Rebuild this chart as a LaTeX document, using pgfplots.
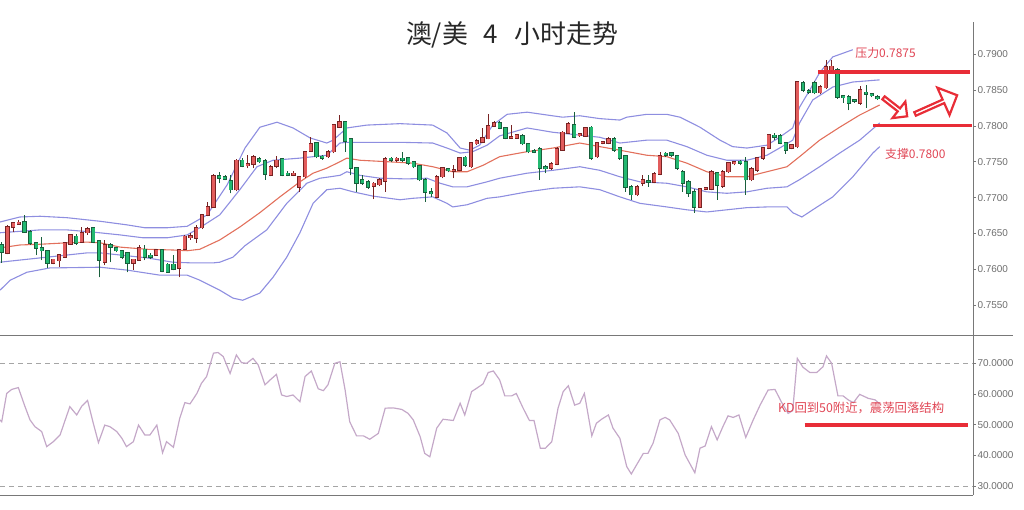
\documentclass[border=0pt]{standalone}
\usepackage{pgfplots}
\pgfplotsset{compat=1.18}
\usepackage{pgfplotstable}
\usepackage{fontspec}
\setmainfont{Liberation Sans}
\newfontfamily\cjk{Noto Sans CJK SC}
\usetikzlibrary{shapes.arrows}
\definecolor{upcol}{RGB}{226,92,92}
\definecolor{dncol}{RGB}{34,184,112}
\definecolor{wickup}{RGB}{120,35,35}
\definecolor{wickdn}{RGB}{25,95,60}
\definecolor{bandcol}{RGB}{142,142,224}
\definecolor{midcol}{RGB}{226,112,92}
\definecolor{kdcol}{RGB}{196,168,200}
\definecolor{annred}{RGB}{232,45,55}
\definecolor{txtred}{RGB}{224,70,85}
\definecolor{axcol}{RGB}{120,120,120}
\definecolor{tickcol}{RGB}{110,110,110}
\definecolor{dashcol}{RGB}{165,165,165}

\pgfplotstableread{
i o h l c
0 0.7634 0.7638 0.7609 0.7624
1 0.7623 0.7662 0.7621 0.7659
2 0.7659 0.7666 0.7652 0.7665
3 0.7664 0.7669 0.7662 0.7665
4 0.7666 0.7676 0.7651 0.7652
5 0.7652 0.7655 0.7634 0.7637
6 0.7637 0.7638 0.7620 0.7630
7 0.7630 0.7645 0.7613 0.7626
8 0.7626 0.7627 0.7602 0.7609
9 0.7609 0.7615 0.7607 0.7614
10 0.7612 0.7622 0.7603 0.7620
11 0.7617 0.7638 0.7616 0.7637
12 0.7635 0.7649 0.7634 0.7648
13 0.7646 0.7649 0.7634 0.7637
14 0.7638 0.7659 0.7637 0.7651
15 0.7651 0.7659 0.7648 0.7656
16 0.7658 0.7659 0.7637 0.7638
17 0.7640 0.7641 0.7589 0.7613
18 0.7610 0.7641 0.7606 0.7634
19 0.7634 0.7637 0.7610 0.7631
20 0.7630 0.7631 0.7624 0.7626
21 0.7626 0.7627 0.7614 0.7617
22 0.7623 0.7624 0.7596 0.7609
23 0.7609 0.7615 0.7599 0.7614
24 0.7613 0.7634 0.7612 0.7630
25 0.7628 0.7634 0.7613 0.7617
26 0.7619 0.7623 0.7614 0.7618
27 0.7620 0.7628 0.7619 0.7627
28 0.7627 0.7628 0.7596 0.7598
29 0.7607 0.7609 0.7595 0.7596
30 0.7607 0.7620 0.7599 0.7600
31 0.7602 0.7628 0.7589 0.7627
32 0.7628 0.7648 0.7627 0.7646
33 0.7645 0.7651 0.7641 0.7646
34 0.7644 0.7662 0.7637 0.7658
35 0.7658 0.7677 0.7656 0.7676
36 0.7676 0.7694 0.7674 0.7687
37 0.7687 0.7733 0.7686 0.7730
38 0.7730 0.7736 0.7720 0.7727
39 0.7729 0.7731 0.7724 0.7726
40 0.7723 0.7731 0.7706 0.7711
41 0.7711 0.7754 0.7709 0.7752
42 0.7752 0.7755 0.7742 0.7744
43 0.7745 0.7759 0.7741 0.7746
44 0.7747 0.7759 0.7741 0.7757
45 0.7754 0.7756 0.7748 0.7750
46 0.7751 0.7754 0.7725 0.7733
47 0.7731 0.7745 0.7730 0.7743
48 0.7744 0.7758 0.7741 0.7752
49 0.7754 0.7755 0.7730 0.7731
50 0.7733 0.7737 0.7730 0.7732
51 0.7732 0.7737 0.7730 0.7733
52 0.7715 0.7730 0.7708 0.7729
53 0.7729 0.7765 0.7727 0.7764
54 0.7765 0.7784 0.7764 0.7775
55 0.7776 0.7778 0.7755 0.7757
56 0.7757 0.7760 0.7753 0.7756
57 0.7757 0.7766 0.7755 0.7764
58 0.7764 0.7803 0.7762 0.7801
59 0.7798 0.7815 0.7797 0.7805
60 0.7805 0.7807 0.7764 0.7779
61 0.7782 0.7783 0.7731 0.7741
62 0.7741 0.7743 0.7708 0.7720
63 0.7725 0.7731 0.7718 0.7720
64 0.7722 0.7725 0.7712 0.7715
65 0.7716 0.7722 0.7698 0.7720
66 0.7718 0.7727 0.7716 0.7725
67 0.7723 0.7756 0.7708 0.7754
68 0.7754 0.7757 0.7750 0.7753
69 0.7753 0.7757 0.7750 0.7754
70 0.7754 0.7764 0.7750 0.7753
71 0.7755 0.7757 0.7746 0.7748
72 0.7750 0.7751 0.7741 0.7743
73 0.7744 0.7746 0.7723 0.7725
74 0.7725 0.7727 0.7694 0.7708
75 0.7707 0.7713 0.7701 0.7706
76 0.7701 0.7731 0.7699 0.7729
77 0.7729 0.7743 0.7727 0.7741
78 0.7739 0.7741 0.7735 0.7738
79 0.7737 0.7745 0.7727 0.7738
80 0.7738 0.7757 0.7737 0.7755
81 0.7756 0.7758 0.7743 0.7745
82 0.7743 0.7777 0.7741 0.7776
83 0.7775 0.7781 0.7773 0.7779
84 0.7777 0.7797 0.7776 0.7783
85 0.7782 0.7816 0.7781 0.7800
86 0.7800 0.7806 0.7798 0.7804
87 0.7804 0.7806 0.7795 0.7797
88 0.7797 0.7798 0.7781 0.7783
89 0.7783 0.7801 0.7782 0.7784
90 0.7783 0.7789 0.7782 0.7787
91 0.7786 0.7788 0.7773 0.7775
92 0.7775 0.7776 0.7762 0.7764
93 0.7765 0.7767 0.7762 0.7764
94 0.7768 0.7770 0.7725 0.7741
95 0.7742 0.7745 0.7734 0.7741
96 0.7741 0.7749 0.7739 0.7747
97 0.7747 0.7770 0.7745 0.7768
98 0.7766 0.7793 0.7765 0.7791
99 0.7790 0.7805 0.7789 0.7803
100 0.7801 0.7819 0.7783 0.7784
101 0.7787 0.7790 0.7785 0.7788
102 0.7786 0.7799 0.7785 0.7797
103 0.7798 0.7800 0.7753 0.7755
104 0.7757 0.7778 0.7755 0.7776
105 0.7776 0.7779 0.7774 0.7777
106 0.7776 0.7784 0.7774 0.7782
107 0.7782 0.7784 0.7764 0.7766
108 0.7769 0.7771 0.7753 0.7755
109 0.7758 0.7760 0.7708 0.7715
110 0.7715 0.7717 0.7697 0.7704
111 0.7704 0.7717 0.7702 0.7715
112 0.7720 0.7731 0.7716 0.7725
113 0.7723 0.7731 0.7715 0.7722
114 0.7722 0.7735 0.7720 0.7733
115 0.7733 0.7764 0.7731 0.7758
116 0.7761 0.7763 0.7757 0.7760
117 0.7762 0.7764 0.7757 0.7759
118 0.7758 0.7760 0.7739 0.7741
119 0.7736 0.7738 0.7708 0.7720
120 0.7722 0.7724 0.7701 0.7706
121 0.7708 0.7712 0.7679 0.7687
122 0.7687 0.7714 0.7686 0.7712
123 0.7712 0.7715 0.7710 0.7713
124 0.7712 0.7738 0.7710 0.7736
125 0.7734 0.7736 0.7697 0.7717
126 0.7716 0.7738 0.7714 0.7736
127 0.7736 0.7750 0.7734 0.7748
128 0.7748 0.7751 0.7745 0.7749
129 0.7750 0.7752 0.7745 0.7749
130 0.7750 0.7757 0.7704 0.7725
131 0.7725 0.7742 0.7723 0.7740
132 0.7738 0.7757 0.7736 0.7755
133 0.7755 0.7771 0.7753 0.7769
134 0.7769 0.7789 0.7767 0.7787
135 0.7786 0.7790 0.7780 0.7785
136 0.7786 0.7788 0.7774 0.7776
137 0.7776 0.7778 0.7761 0.7766
138 0.7769 0.7775 0.7767 0.7773
139 0.7771 0.7863 0.7769 0.7861
140 0.7860 0.7862 0.7847 0.7850
141 0.7848 0.7851 0.7844 0.7847
142 0.7860 0.7862 0.7844 0.7846
143 0.7846 0.7857 0.7844 0.7854
144 0.7853 0.7892 0.7851 0.7882
145 0.7877 0.7892 0.7875 0.7883
146 0.7878 0.7881 0.7838 0.7840
147 0.7841 0.7843 0.7832 0.7840
148 0.7840 0.7843 0.7822 0.7832
149 0.7836 0.7838 0.7832 0.7835
150 0.7832 0.7856 0.7829 0.7850
151 0.7846 0.7857 0.7825 0.7845
152 0.7844 0.7846 0.7840 0.7842
153 0.7840 0.7843 0.7836 0.7838
}\candles

\pgfplotsset{
  candlebase/.style={only marks, mark=*, mark size=0pt, mark options={draw=none, fill=none}, forget plot},
  candlewick/.style 2 args={candlebase,
    restrict expr to domain={\thisrow{c}-\thisrow{o}}{#1},
    error bars/.cd, y dir=plus, y explicit, error mark=none,
    error bar style={draw=#2, line width=0.8pt}},
  candlebody/.style 2 args={candlebase,
    restrict expr to domain={\thisrow{c}-\thisrow{o}}{#1},
    error bars/.cd, y dir=plus, y explicit, error mark=none,
    error bar style={draw=#2, line width=2.9pt}},
  candleedge/.style 2 args={candlebase,
    restrict expr to domain={\thisrow{c}-\thisrow{o}}{#1},
    error bars/.cd, y dir=plus, y explicit, error mark=none,
    error bar style={draw=#2, line width=4.3pt}},
}

\begin{document}
\begin{tikzpicture}[x=1bp,y=1bp]
\begin{axis}[
  name=top, at={(0,0)}, anchor=south west, scale only axis,
  width=973bp, height=313bp,
  xmin=-0.3, xmax=169.7, ymin=0.75086, ymax=0.79446,
  clip=false,
  axis y line*=right, axis x line*=bottom,
  axis line style={-, draw=axcol, line width=0.8pt},
  xtick=\empty,
  ytick={0.755,0.76,0.765,0.77,0.775,0.78,0.785,0.79},
  scaled y ticks=false,
  tick align=outside, major tick length=3bp,
  tick style={draw=axcol, line width=0.6pt},
  yticklabel style={font=\fontsize{10}{12}\selectfont, text=tickcol, anchor=west, xshift=-2bp,
    /pgf/number format/fixed, /pgf/number format/fixed zerofill,
    /pgf/number format/precision=4, /pgf/number format/assume math mode=true},
]
% Bollinger bands
\addplot[bandcol, line width=1.1pt] coordinates {
(-0.3,0.7666) (3.2,0.7673) (6.7,0.7674) (11.4,0.7672) (17.2,0.7667) (21.9,0.7662) (25.0,0.7658) (28.9,0.7658) (32.4,0.7660) (35.9,0.7676) (39.4,0.7718) (42.5,0.7769) (45.1,0.7798) (48.1,0.7805) (50.9,0.7797) (53.9,0.7783) (56.8,0.7776) (57.9,0.7780) (60.3,0.7797) (63.8,0.7801) (69.6,0.7803) (75.3,0.7801) (77.8,0.7790) (80.1,0.7769) (81.8,0.7766) (83.5,0.7773) (85.8,0.7801) (88.3,0.7816) (91.8,0.7819) (95.3,0.7815) (98.0,0.7812) (101.0,0.7814) (104.5,0.7810) (108.0,0.7808) (109.2,0.7812) (112.7,0.7816) (116.2,0.7816) (118.5,0.7812) (122.0,0.7798) (125.5,0.7780) (127.7,0.7771) (130.2,0.7769) (133.7,0.7773) (135.9,0.7784) (138.2,0.7797) (139.4,0.7826) (141.2,0.7850) (142.9,0.7874) (145.2,0.7896) (148.7,0.7906)};
\addplot[bandcol, line width=1.1pt] coordinates {
(-0.3,0.7651) (3.2,0.7653) (6.7,0.7655) (11.4,0.7655) (15.9,0.7652) (20.7,0.7648) (24.7,0.7644) (28.9,0.7644) (32.4,0.7648) (34.6,0.7658) (38.1,0.7676) (41.6,0.7711) (44.6,0.7743) (47.4,0.7752) (52.1,0.7755) (54.4,0.7757) (56.8,0.7759) (59.1,0.7776) (60.3,0.7777) (63.8,0.7777) (69.6,0.7777) (75.3,0.7776) (77.8,0.7769) (80.1,0.7762) (82.3,0.7764) (84.8,0.7773) (87.0,0.7786) (91.8,0.7797) (96.3,0.7791) (101.0,0.7787) (104.5,0.7784) (108.0,0.7776) (112.7,0.7780) (116.2,0.7780) (119.7,0.7771) (123.2,0.7759) (126.7,0.7752) (130.2,0.7752) (133.7,0.7759) (135.9,0.7769) (138.2,0.7780) (139.4,0.7804) (141.7,0.7836) (145.2,0.7854) (148.7,0.7861) (153.4,0.7864)};
\addplot[midcol, line width=1.1pt] coordinates {
(-0.3,0.7630) (3.2,0.7634) (6.7,0.7635) (11.4,0.7637) (14.9,0.7638) (17.2,0.7637) (20.7,0.7631) (25.4,0.7628) (29.9,0.7627) (32.4,0.7626) (34.6,0.7628) (38.1,0.7641) (41.6,0.7659) (45.1,0.7679) (48.6,0.7701) (52.1,0.7722) (54.4,0.7734) (56.8,0.7741) (59.1,0.7750) (60.3,0.7755) (62.6,0.7752) (67.3,0.7750) (71.8,0.7748) (75.3,0.7743) (78.8,0.7736) (81.3,0.7736) (84.1,0.7745) (87.0,0.7757) (91.8,0.7764) (96.3,0.7769) (101.0,0.7776) (104.5,0.7771) (108.0,0.7766) (112.7,0.7759) (116.2,0.7757) (119.7,0.7748) (123.2,0.7736) (126.7,0.7729) (130.2,0.7729) (133.7,0.7736) (137.2,0.7743) (139.4,0.7757) (142.9,0.7780) (146.4,0.7798) (149.9,0.7815) (153.4,0.7829)};
\addplot[bandcol, line width=1.1pt] coordinates {
(-0.3,0.7610) (3.2,0.7613) (6.7,0.7616) (11.4,0.7620) (14.9,0.7623) (17.2,0.7623) (20.7,0.7620) (25.4,0.7616) (29.9,0.7610) (33.4,0.7609) (36.9,0.7609) (38.1,0.7610) (40.4,0.7617) (42.5,0.7633) (46.3,0.7655) (49.8,0.7692) (53.3,0.7720) (55.6,0.7727) (59.1,0.7731) (60.3,0.7736) (62.6,0.7731) (66.1,0.7727) (70.8,0.7726) (74.3,0.7727) (76.6,0.7720) (78.8,0.7715) (81.3,0.7715) (84.8,0.7722) (87.0,0.7727) (91.8,0.7734) (96.3,0.7738) (101.0,0.7743) (104.5,0.7738) (108.0,0.7729) (111.5,0.7722) (116.2,0.7720) (119.7,0.7715) (123.2,0.7708) (126.7,0.7706) (130.2,0.7708) (133.7,0.7713) (137.2,0.7715) (139.4,0.7725) (142.9,0.7743) (146.4,0.7762) (149.9,0.7780) (153.4,0.7804)};
\addplot[bandcol, line width=1.1pt] coordinates {
(-0.3,0.7571) (1.5,0.7585) (4.4,0.7596) (8.4,0.7602) (17.2,0.7603) (21.9,0.7599) (27.6,0.7592) (32.4,0.7592) (34.6,0.7585) (38.1,0.7571) (40.4,0.7560) (42.1,0.7557) (45.1,0.7567) (47.4,0.7589) (49.8,0.7617) (52.1,0.7651) (54.4,0.7692) (56.8,0.7711) (59.1,0.7713) (61.4,0.7708) (64.9,0.7702) (69.6,0.7697) (71.8,0.7699) (75.3,0.7701) (77.8,0.7692) (78.8,0.7687) (81.3,0.7690) (84.8,0.7699) (87.0,0.7701) (91.8,0.7708) (96.3,0.7713) (101.0,0.7715) (104.5,0.7711) (108.0,0.7701) (111.5,0.7692) (116.2,0.7687) (119.7,0.7683) (123.2,0.7680) (126.7,0.7683) (130.2,0.7686) (133.7,0.7687) (137.2,0.7687) (138.2,0.7679) (139.8,0.7673) (141.7,0.7683) (145.2,0.7701) (148.7,0.7729) (152.2,0.7762) (153.4,0.7771)};
% wicks
\addplot[candlewick={0:1}{wickup}] table[x=i, y=l, y error plus expr={\thisrow{h}-\thisrow{l}}] {\candles};
\addplot[candlewick={-1:0}{wickdn}] table[x=i, y=l, y error plus expr={\thisrow{h}-\thisrow{l}}] {\candles};
% body outlines
\addplot[candleedge={0:1}{wickup}] table[x=i,
  y expr={min(\thisrow{o},\thisrow{c})-0.5*max(0,0.00022-abs(\thisrow{c}-\thisrow{o}))-0.0001},
  y error plus expr={max(abs(\thisrow{c}-\thisrow{o}),0.00022)+0.0002}] {\candles};
\addplot[candleedge={-1:0}{wickdn}] table[x=i,
  y expr={min(\thisrow{o},\thisrow{c})-0.5*max(0,0.00022-abs(\thisrow{c}-\thisrow{o}))-0.0001},
  y error plus expr={max(abs(\thisrow{c}-\thisrow{o}),0.00022)+0.0002}] {\candles};
% bodies
\addplot[candlebody={0:1}{upcol}] table[x=i,
  y expr={min(\thisrow{o},\thisrow{c})-0.5*max(0,0.00022-abs(\thisrow{c}-\thisrow{o}))},
  y error plus expr={max(abs(\thisrow{c}-\thisrow{o}),0.00022)}] {\candles};
\addplot[candlebody={-1:0}{dncol}] table[x=i,
  y expr={min(\thisrow{o},\thisrow{c})-0.5*max(0,0.00022-abs(\thisrow{c}-\thisrow{o}))},
  y error plus expr={max(abs(\thisrow{c}-\thisrow{o}),0.00022)}] {\candles};
% annotations
\draw[annred, line width=4bp] (axis cs:142.6,0.7875) -- (axis cs:169.1,0.7875);
\draw[annred, line width=3bp] (axis cs:152.2,0.7800) -- (axis cs:169.5,0.7800);
\node[anchor=west, text=txtred, font=\cjk\fontsize{12}{14}\selectfont, inner sep=0pt] at (axis cs:149.1,0.79014) {压力0.7875};
\node[anchor=west, text=txtred, font=\cjk\fontsize{12}{14}\selectfont, inner sep=0pt] at (axis cs:154.3,0.77607) {支撑0.7800};
\node[single arrow, draw=annred, fill=white, line width=2.2bp, inner sep=0pt, minimum height=30bp, minimum width=21bp, single arrow head extend=5bp, rotate=-38] at (axis cs:156.0,0.78269) {};
\node[single arrow, draw=annred, fill=white, line width=2.2bp, inner sep=0pt, minimum height=46bp, minimum width=30bp, single arrow head extend=7.5bp, rotate=24] at (axis cs:163.1,0.78290) {};
\coordinate (T) at (rel axis cs:0,0);
\end{axis}

\begin{axis}[
  at={(T)}, anchor=north west, scale only axis,
  width=973bp, height=160bp,
  xmin=-0.3, xmax=169.7, ymin=27.17, ymax=79.2,
  clip=false,
  axis y line*=right, axis x line*=bottom,
  axis line style={-, draw=axcol, line width=0.8pt},
  xtick=\empty,
  ytick={30,40,50,60,70},
  tick align=outside, major tick length=3bp,
  tick style={draw=axcol, line width=0.6pt},
  yticklabel style={font=\fontsize{10}{12}\selectfont, text=tickcol, anchor=west, xshift=-2bp,
    /pgf/number format/fixed, /pgf/number format/fixed zerofill,
    /pgf/number format/precision=4, /pgf/number format/assume math mode=true},
]
\addplot[dashcol, line width=0.8pt, dash pattern=on 5bp off 4bp] coordinates {(-0.3,70) (169.7,70)};
\addplot[dashcol, line width=0.8pt, dash pattern=on 5bp off 4bp] coordinates {(-0.3,30) (169.7,30)};
\addplot[kdcol, line width=1.2pt] coordinates {
(-0.3,51.6) (0.0,51.0) (0.87,60.2) (1.74,61.5) (2.9,62.1) (4.07,55.9) (4.94,51.6) (5.8,49.4) (6.98,47.8) (7.86,42.9) (9.0,44.5) (10.2,46.7) (11.1,51.6) (11.9,55.9) (13.1,53.2) (14.0,56.1) (15.0,57.9) (16.0,50.5) (16.9,44.2) (18.0,49.9) (18.9,49.4) (20.1,47.8) (21.0,45.6) (21.8,42.9) (23.0,44.5) (23.9,49.9) (25.0,46.7) (25.9,46.7) (27.1,49.9) (28.1,40.9) (28.8,44.5) (30.0,42.7) (31.1,52.1) (32.0,57.2) (32.9,56.8) (34.1,60.2) (34.9,63.5) (35.8,65.7) (37.0,73.3) (37.8,73.5) (38.7,72.2) (39.9,66.7) (41.0,72.7) (41.9,70.2) (42.8,70.0) (43.9,71.6) (44.8,69.5) (46.0,63.0) (46.9,64.6) (48.0,66.4) (48.9,59.7) (49.8,59.2) (50.9,59.7) (52.1,57.5) (53.0,65.7) (54.1,67.5) (55.3,61.7) (56.2,61.1) (57.0,63.0) (58.2,70.0) (59.1,70.5) (60.0,61.3) (60.8,51.0) (62.0,46.4) (63.2,46.4) (64.3,45.3) (65.8,47.2) (67.0,55.4) (68.4,55.5) (69.9,55.0) (71.0,53.7) (71.9,51.6) (73.1,46.2) (73.9,40.7) (74.8,39.6) (76.0,48.9) (77.1,51.8) (78.9,51.4) (80.1,57.0) (80.9,53.2) (82.1,60.8) (83.0,61.9) (84.1,63.3) (85.0,67.0) (85.9,67.5) (87.0,64.6) (87.9,59.4) (89.1,59.4) (89.9,60.2) (91.1,55.4) (92.2,51.4) (93.0,51.4) (94.1,42.4) (95.0,42.4) (96.1,44.5) (97.2,55.4) (98.1,60.8) (99.0,62.7) (100.1,56.4) (101.0,57.0) (101.8,60.2) (103.1,46.4) (103.9,50.5) (104.8,51.8) (106.0,53.2) (106.8,48.9) (108.0,45.6) (109.2,36.4) (110.0,34.0) (110.9,36.9) (112.1,40.7) (112.9,40.7) (113.8,44.0) (115.0,51.6) (115.9,52.4) (116.7,51.6) (118.2,47.2) (119.4,40.2) (121.1,34.4) (122.0,42.4) (122.9,43.1) (124.0,49.4) (125.0,45.1) (126.0,49.4) (126.9,52.9) (127.8,52.4) (128.8,53.2) (130.0,45.9) (131.3,51.6) (132.5,56.4) (133.9,61.3) (135.1,61.5) (136.2,57.5) (137.4,53.7) (138.2,54.6) (139.0,71.6) (140.0,68.7) (141.2,67.0) (142.4,67.0) (143.5,68.9) (144.1,72.4) (145.0,70.0) (146.1,59.4) (147.0,59.4) (147.9,58.1) (148.8,57.2) (149.9,59.9) (151.4,58.6) (152.6,58.1) (153.4,56.8)};
\draw[annred, line width=3.5bp] (axis cs:140.3,50) -- (axis cs:168.8,50);
\node[anchor=west, text=txtred, font=\cjk\fontsize{12.4}{14}\selectfont, inner sep=0pt] at (axis cs:135.6,55.46) {KD回到50附近，震荡回落结构};
\end{axis}

\node[font=\cjk\fontsize{26}{30}\selectfont, text={rgb,255:red,40;green,40;blue,40}] at ([shift={(512bp,300bp)}]T) {澳/美\hspace{16bp}4\hspace{16bp}小时走势};
\draw[axcol, line width=0.8pt] ([shift={(973bp,0bp)}]T) -- ([shift={(1013bp,0bp)}]T);
\pgfresetboundingbox
\useasboundingbox ([shift={(0bp,-175bp)}]T) rectangle ([shift={(1024bp,335bp)}]T);
\end{tikzpicture}
\end{document}
